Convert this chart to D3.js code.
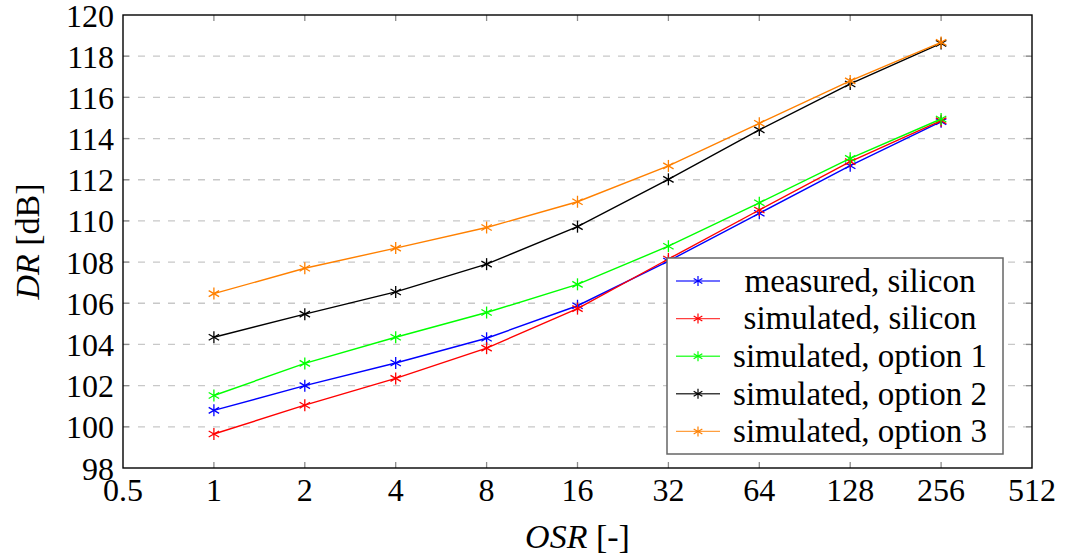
<!DOCTYPE html>
<meta charset="utf-8">
<style>
body { margin: 0; background: #fff; }
svg { font-family: "Liberation Serif", "DejaVu Serif", serif; }
.grid line { stroke: #c8c8c8; stroke-dasharray: 7,8; stroke-width: 1.3; }
.tick-mark { stroke: #8c8c8c; stroke-width: 1.3; }
</style>
<body>
<svg width="1070" height="559"></svg>
<script src="https://cdn.jsdelivr.net/npm/d3@7"></script>
<script>

var osr = [1, 2, 4, 8, 16, 32, 64, 128, 256];

var measuredSilicon  = [100.8, 102.0, 103.1, 104.3, 105.88, 108.05, 110.37, 112.68, 114.82];
var simulatedSilicon = [99.65, 101.05, 102.35, 103.82, 105.74, 108.15, 110.53, 112.88, 114.87];
var option1 = [101.52, 103.08, 104.35, 105.55, 106.92, 108.77, 110.88, 113.04, 114.95];
var option2 = [104.35, 105.47, 106.55, 107.9, 109.72, 112.02, 114.42, 116.65, 118.62];
var option3 = [106.47, 107.7, 108.68, 109.68, 110.93, 112.67, 114.74, 116.8, 118.67];

var xTicks = [0.5, 1, 2, 4, 8, 16, 32, 64, 128, 256, 512];
var yTicks = [98, 100, 102, 104, 106, 108, 110, 112, 114, 116, 118, 120];

var series = [
  {name: "measured, silicon",   color: "#0000ff", values: measuredSilicon},
  {name: "simulated, silicon",  color: "#ff0000", values: simulatedSilicon},
  {name: "simulated, option 1", color: "#00ff00", values: option1},
  {name: "simulated, option 2", color: "#000000", values: option2},
  {name: "simulated, option 3", color: "#ff8000", values: option3}
];

var svg = d3.select("svg");
var pLeft = 123, pRight = 1032, pTop = 15, pBottom = 468;

var x = d3.scaleLog().base(2).domain([0.5, 512]).range([pLeft, pRight]);
var y = d3.scaleLinear().domain([98, 120]).range([pBottom, pTop]);

// grid
svg.append("g").attr("class", "grid")
  .selectAll("line")
  .data(yTicks.slice(1, -1))
  .enter().append("line")
    .attr("x1", pLeft).attr("x2", pRight)
    .attr("y1", function(d) { return y(d); })
    .attr("y2", function(d) { return y(d); });

// inner tick marks
var tm = svg.append("g");
yTicks.slice(1, -1).forEach(function(d) {
  tm.append("line").attr("class", "tick-mark")
    .attr("x1", pLeft).attr("x2", pLeft + 6).attr("y1", y(d)).attr("y2", y(d));
  tm.append("line").attr("class", "tick-mark")
    .attr("x1", pRight - 6).attr("x2", pRight).attr("y1", y(d)).attr("y2", y(d));
});
xTicks.slice(1, -1).forEach(function(d) {
  tm.append("line").attr("class", "tick-mark")
    .attr("x1", x(d)).attr("x2", x(d)).attr("y1", pTop).attr("y2", pTop + 6);
  tm.append("line").attr("class", "tick-mark")
    .attr("x1", x(d)).attr("x2", x(d)).attr("y1", pBottom - 6).attr("y2", pBottom);
});

// tick labels
svg.append("g").selectAll("text")
  .data(yTicks)
  .enter().append("text")
    .attr("x", pLeft - 9)
    .attr("y", function(d) { return y(d); })
    .attr("dy", "0.36em")
    .attr("text-anchor", "end")
    .attr("font-size", 32)
    .text(function(d) { return d; });

svg.append("g").selectAll("text")
  .data(xTicks)
  .enter().append("text")
    .attr("x", function(d) { return x(d); })
    .attr("y", pBottom + 33)
    .attr("text-anchor", "middle")
    .attr("font-size", 32)
    .text(function(d) { return d; });

// axis titles
var xt = svg.append("text")
  .attr("x", (pLeft + pRight) / 2)
  .attr("y", 548)
  .attr("text-anchor", "middle")
  .attr("font-size", 34);
xt.append("tspan").attr("font-style", "italic").text("OSR");
xt.append("tspan").text(" [-]");

var yt = svg.append("text")
  .attr("transform", "translate(39," + ((pTop + pBottom) / 2) + ") rotate(-90)")
  .attr("text-anchor", "middle")
  .attr("font-size", 34);
yt.append("tspan").attr("font-style", "italic").text("DR");
yt.append("tspan").text(" [dB]");

function asterisk(g, cx, cy, r, color, w) {
  [90, 30, -30].forEach(function(a) {
    var rad = a * Math.PI / 180;
    g.append("line")
      .attr("x1", cx - r * Math.cos(rad)).attr("y1", cy - r * Math.sin(rad))
      .attr("x2", cx + r * Math.cos(rad)).attr("y2", cy + r * Math.sin(rad))
      .attr("stroke", color).attr("stroke-width", w);
  });
}

var line = d3.line()
  .x(function(d) { return x(d[0]); })
  .y(function(d) { return y(d[1]); });

series.forEach(function(s) {
  var pts = osr.map(function(o, i) { return [o, s.values[i]]; });
  svg.append("path")
    .datum(pts)
    .attr("d", line)
    .attr("fill", "none")
    .attr("stroke", s.color)
    .attr("stroke-width", 1.4);
  var g = svg.append("g");
  pts.forEach(function(p) { asterisk(g, x(p[0]), y(p[1]), 6, s.color, 1.3); });
});

// frame
svg.append("rect")
  .attr("x", pLeft).attr("y", pTop)
  .attr("width", pRight - pLeft).attr("height", pBottom - pTop)
  .attr("fill", "none").attr("stroke", "#000").attr("stroke-width", 1.4);

// legend
var lg = svg.append("g");
lg.append("rect")
  .attr("x", 667).attr("y", 258).attr("width", 336).attr("height", 196)
  .attr("fill", "#fff").attr("stroke", "#666").attr("stroke-width", 1.5);

series.forEach(function(s, i) {
  var cy = 281 + i * 37.6;
  lg.append("line")
    .attr("x1", 676).attr("x2", 720).attr("y1", cy).attr("y2", cy)
    .attr("stroke", s.color).attr("stroke-width", 1.4).attr("opacity", 0.75);
  asterisk(lg, 698, cy, 5, s.color, 1.2);
  lg.append("text")
    .attr("x", 860).attr("y", cy)
    .attr("dy", "0.33em")
    .attr("text-anchor", "middle")
    .attr("font-size", 33)
    .text(s.name);
});

</script>
</body>
